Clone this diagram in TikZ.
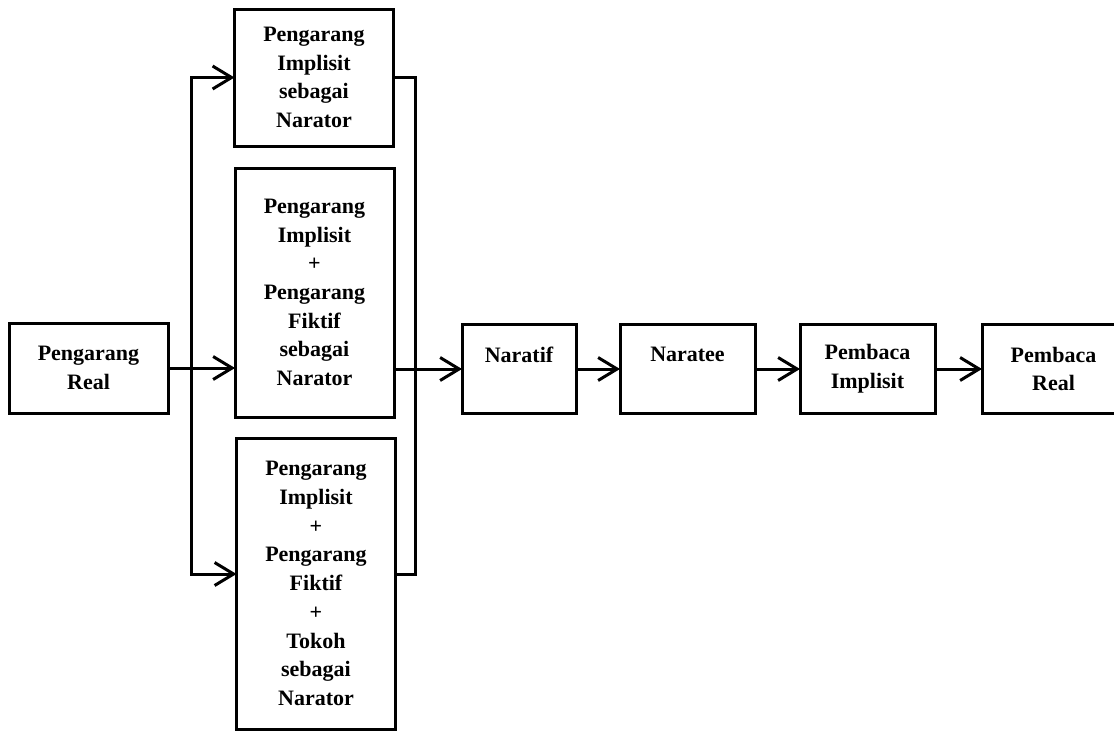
\documentclass[tikz,border=0pt]{standalone}
\usepackage{fontspec}
\setmainfont{Liberation Serif}
\usepackage{tikz}
\usetikzlibrary{positioning,arrows.meta}
\tikzset{
  box/.style={draw, line width=3pt, outer sep=0pt, align=center, inner sep=2pt, font=\fontsize{22}{28.7}\selectfont\bfseries},
  colbox/.style={box, text width=145pt, minimum width=159pt},
  rowbox/.style={box, minimum height=89pt},
  line/.style={line width=3pt},
  arr/.style={line width=3pt, -{Straight Barb[length=19pt,width=23pt]}},
}

\begin{document}
\begin{tikzpicture}[x=1pt,y=1pt]
    \useasboundingbox (0,0) rectangle (1114,-731);
    \node[box, minimum width=159pt, minimum height=90pt] (preal) at (88.5,-368) {Pengarang\\Real};
    \node[colbox, minimum height=137pt] (impl) at (314,-77.5) {Pengarang\\Implisit\\sebagai\\Narator};
    \node[colbox, minimum height=249pt] (fikt) at (314.5,-292.5) {Pengarang\\Implisit\\+\\Pengarang\\Fiktif\\sebagai\\Narator\\[6pt]};
    \node[colbox, minimum height=291pt] (tokoh) at (316,-583.5) {Pengarang\\Implisit\\+\\Pengarang\\Fiktif\\+\\Tokoh\\sebagai\\Narator};
    \node[rowbox, minimum width=114pt] (naratif) at (519,-369) {Naratif\\\mbox{}};
    \node[rowbox, minimum width=135pt, right=44pt of naratif] (naratee) {Naratee\\\mbox{}};
    \node[rowbox, minimum width=135pt, right=45pt of naratee] (pimpl) {Pembaca\\Implisit};
    \node[rowbox, minimum width=143pt, right=47pt of pimpl] (pbreal) {Pembaca\\Real};
    % fork and join
    \coordinate (fork) at (191,-368);
    \coordinate (join) at (415,-369);
    \draw[arr] (preal.east) -- (preal.east -| fikt.west);
    \draw[arr] (fork) |- (impl.west);
    \draw[arr] (fork) |- ([yshift=9.5pt]tokoh.west);
    \draw[line] (impl.east) -| (join) |- ([yshift=9.5pt]tokoh.east);
    \draw[arr] (fikt.east |- naratif.west) -- (naratif.west);
    \draw[arr] (naratif.east) -- (naratee.west);
    \draw[arr] (naratee.east) -- (pimpl.west);
    \draw[arr] (pimpl.east) -- (pbreal.west);
\end{tikzpicture}
\end{document}
